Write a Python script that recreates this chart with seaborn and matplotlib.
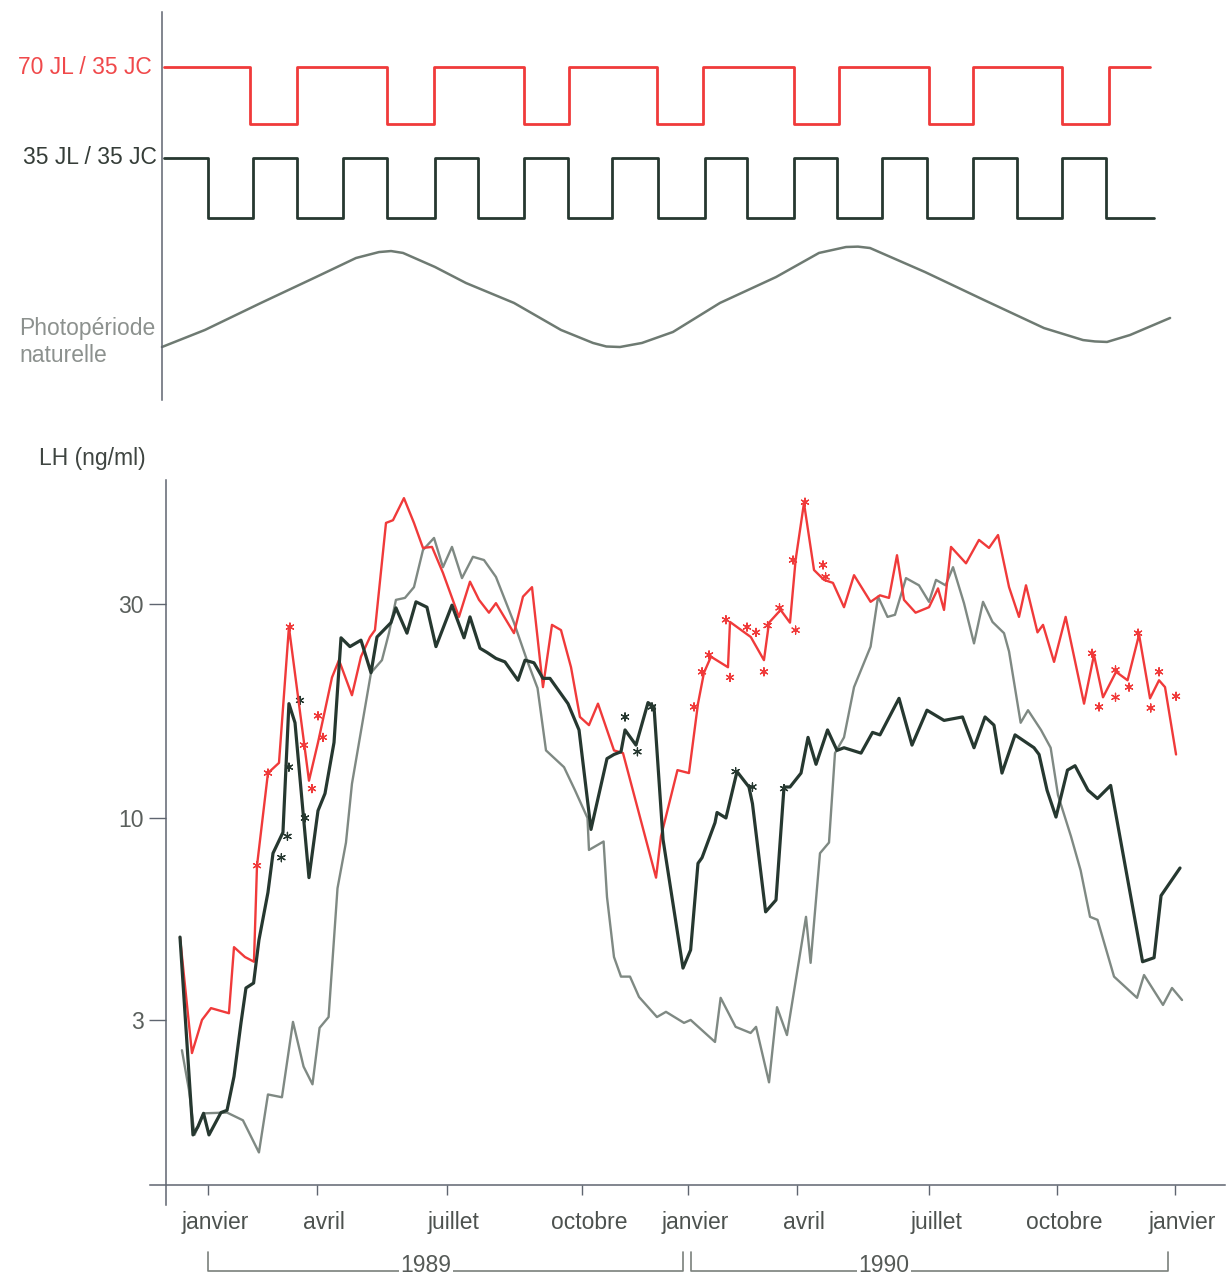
import numpy as np
import pandas as pd
import matplotlib
matplotlib.use("Agg")
import matplotlib.pyplot as plt
from matplotlib.ticker import NullLocator
from matplotlib.transforms import ScaledTranslation, blended_transform_factory
import seaborn as sns

sns.set_theme(style="white")
plt.rcParams["font.family"] = ["Liberation Sans", "DejaVu Sans"]

# ---------------------------------------------------------------- data
# time axis: weeks from 1 January 1989
month_ticks = [0.0, 11.85, 25.98, 40.65, 52.17, 64.02, 78.37, 92.28, 105.11]
month_labels = ["janvier", "avril", "juillet", "octobre", "janvier",
                "avril", "juillet", "octobre", "janvier"]

# light schedules (switch weeks; both start in long days)
red_start, red_end = -4.78, 102.4
red_switch_weeks = [4.57, 9.67, 19.46, 24.57, 34.35, 39.24, 48.8, 53.8,
                    63.7, 68.6, 78.4, 83.2, 92.8, 97.9]
dark_start, dark_end = -4.78, 102.8
dark_switch_weeks = [0.0, 4.89, 9.67, 14.67, 19.46, 24.67, 29.35, 34.35,
                     39.13, 43.9, 48.9, 54.0, 58.6, 63.7, 68.4, 73.3, 78.2,
                     83.2, 87.9, 92.8, 97.6]

# natural photoperiod (hours of light)
photo_weeks = [-5.0, -0.33, 5.76, 11.74, 16.09, 18.59, 19.9, 21.2, 24.67,
               28.04, 33.26, 38.37, 41.85, 43.3, 44.78, 47.17, 50.54, 55.65,
               61.74, 66.41, 69.35, 70.65, 71.96, 77.93, 84.35, 90.87, 95.11,
               96.4, 97.72, 100.22, 104.57]
photo_hours = [8.0, 9.35, 11.49, 13.54, 15.05, 15.52, 15.6, 15.45, 14.34,
               13.07, 11.49, 9.35, 8.32, 8.04, 8.0, 8.32, 9.19, 11.49,
               13.54, 15.45, 15.92, 15.95, 15.84, 13.94, 11.72, 9.5, 8.55,
               8.44, 8.4, 8.95, 10.3]

# plasma LH (ng/ml), group 70 JL / 35 JC
red_weeks = [-3.04, -1.74, -0.65, 0.33, 2.28, 2.83, 4.02, 5.0, 5.33, 6.52,
             7.72, 8.80, 10.98, 11.96, 12.72, 13.48, 14.24, 15.65, 16.63,
             17.61, 18.15, 19.35, 20.11, 21.30, 22.39, 23.37, 24.35, 25.54,
             27.28, 28.48, 29.46, 30.54, 31.30, 33.26, 34.24, 35.22, 36.41,
             37.39, 38.37, 39.46, 40.43, 41.41, 42.39, 44.13, 45.11, 48.70,
             49.24, 51.03, 52.28, 53.26, 53.91, 54.67, 56.52, 56.74, 59.0,
             60.43, 60.98, 62.24, 63.26, 63.87, 64.78, 65.87, 66.96, 67.93,
             69.13, 70.22, 72.02, 73.04, 74.02, 74.89, 75.65, 76.91, 78.37,
             79.35, 80.0, 80.76, 82.39, 83.80, 84.89, 85.87, 87.07, 88.15,
             88.91, 90.16, 90.76, 91.96, 93.22, 95.22, 96.30, 97.28, 98.70,
             99.95, 101.20, 102.39, 103.37, 104.02, 105.22]
red_lh = [5.10, 2.38, 3.01, 3.26, 3.15, 4.80, 4.52, 4.39, 7.7, 12.7,
          13.4, 26.8, 12.2, 14.9, 17.6, 20.8, 22.7, 19.0, 23.1,
          25.5, 26.4, 44.9, 45.5, 50.7, 44.9, 39.7, 39.9, 35.1,
          28.2, 33.6, 30.7, 28.8, 30.2, 26.0, 31.2, 32.7, 19.8,
          27.1, 26.4, 21.9, 17.0, 16.3, 18.2, 14.3, 14.1, 7.2,
          9.05, 12.9, 12.7, 18.2, 21.3, 23.1, 21.9, 27.5, 25.5,
          22.7, 27.4, 29.2, 27.4, 37.4, 49.5, 35.6, 33.9, 33.4,
          29.6, 34.7, 30.4, 31.4, 31.0, 38.3, 30.7, 28.8, 29.6,
          32.5, 29.2, 39.9, 36.8, 41.3, 39.7, 42.3, 32.7, 28.2,
          33.0, 26.1, 27.1, 22.5, 28.2, 18.2, 23.3, 18.8, 21.4,
          20.5, 25.8, 18.7, 20.5, 19.8, 14.0]

# group 35 JL / 35 JC
dark_weeks = [-3.04, -1.63, -1.09, -0.48, 0.11, 1.41, 2.07, 2.83, 3.59, 4.13,
              4.96, 5.54, 6.52, 7.07, 8.15, 8.80, 9.46, 10.39, 10.98, 11.96,
              12.72, 13.70, 14.46, 15.43, 16.63, 17.72, 18.37, 19.89, 20.43,
              21.63, 22.61, 23.80, 24.78, 26.52, 27.83, 28.48, 29.57, 30.33,
              31.30, 32.28, 33.70, 34.46, 35.43, 36.41, 37.17, 39.13, 40.33,
              41.63, 43.37, 44.13, 44.89, 45.33, 46.52, 47.83, 48.48, 49.46,
              51.63, 52.46, 53.26, 53.70, 55.11, 55.33, 56.30, 57.50, 58.80,
              59.18, 60.61, 61.74, 62.61, 63.26, 64.46, 65.22, 66.09, 67.34,
              68.37, 69.13, 70.98, 72.23, 73.04, 75.11, 76.52, 78.15, 80.0,
              82.01, 83.26, 84.46, 85.43, 86.30, 87.72, 89.78, 90.33, 91.20,
              92.17, 93.42, 94.24, 95.65, 96.68, 98.11, 101.58, 102.83,
              103.59, 105.65]
dark_lh = [5.10, 1.19, 1.29, 1.46, 1.19, 1.47, 1.50, 1.99, 2.95, 3.72,
           3.84, 5.01, 6.62, 8.25, 9.25, 18.2, 16.5, 10.0, 7.2, 10.4,
           11.4, 14.9, 25.4, 24.3, 25.1, 21.3, 25.5, 27.4, 29.5,
           26.0, 30.4, 29.6, 24.3, 29.9, 25.4, 28.2, 24.1, 23.6,
           22.9, 22.5, 20.5, 22.7, 22.4, 20.7, 20.7, 18.2, 15.9,
           9.4, 13.7, 14.0, 14.2, 15.9, 14.7, 18.3, 17.9, 8.9,
           4.22, 4.72, 7.8, 8.05, 9.75, 10.3, 10.0, 12.8, 11.8,
           10.8, 5.92, 6.34, 11.8, 11.8, 12.7, 15.3, 13.3, 15.9,
           14.3, 14.5, 14.1, 15.7, 15.5, 18.7, 14.7, 17.6, 16.7,
           17.0, 14.5, 17.0, 16.3, 12.7, 15.5, 14.5, 14.0, 11.6,
           10.05, 12.9, 13.2, 11.6, 11.1, 11.9, 4.39, 4.50,
           6.5, 7.6]

# group under natural photoperiod
gray_weeks = [-2.83, -2.07, -1.46, -0.48, 2.07, 3.80, 5.54, 6.52, 8.04, 9.24,
              10.39, 11.36, 12.13, 13.11, 14.08, 15.0, 15.65, 17.72, 18.91,
              19.67, 20.43, 21.41, 22.39, 23.37, 24.57, 25.54, 26.52, 27.61,
              28.80, 30.0, 31.30, 33.26, 34.67, 35.82, 36.74, 38.70, 39.89,
              41.25, 41.41, 43.0, 43.37, 44.13, 44.89, 45.87, 46.85, 48.80,
              49.78, 51.74, 52.46, 55.11, 55.72, 57.35, 58.98, 59.57, 60.98,
              61.85, 62.93, 65.0, 65.5, 66.52, 67.5, 68.15, 69.13, 70.22,
              72.02, 72.83, 73.86, 74.67, 75.87, 77.28, 78.37, 79.13, 80.17,
              80.98, 82.17, 83.26, 84.24, 85.27, 86.52, 87.07, 88.33, 89.13,
              90.54, 91.59, 92.39, 93.80, 94.85, 95.87, 96.68, 98.48, 100.98,
              101.74, 103.80, 104.78, 105.87]
gray_lh = [2.43, 1.79, 1.19, 1.46, 1.47, 1.37, 0.99, 1.72, 1.68, 2.97,
           2.15, 1.87, 2.85, 3.07, 6.78, 8.75, 12.0, 21.3, 22.7,
           26.0, 30.7, 31.0, 32.7, 39.3, 41.7, 36.1, 39.9, 34.2,
           38.0, 37.4, 34.4, 27.4, 22.7, 19.7, 14.3, 13.1, 11.6,
           10.0, 8.4, 8.8, 6.45, 4.52, 4.0, 4.0, 3.51, 3.07,
           3.18, 2.95, 3.01, 2.58, 3.49, 2.87, 2.75, 2.87, 1.90,
           3.28, 2.71, 5.75, 4.36, 8.25, 8.75, 14.1, 15.3, 19.8,
           24.3, 31.2, 28.2, 28.5, 34.2, 33.0, 30.4, 33.9, 33.0,
           36.1, 30.2, 24.7, 30.4, 27.5, 26.0, 23.7, 16.5, 17.6,
           15.9, 14.5, 11.3, 9.05, 7.5, 5.75, 5.65, 4.0, 3.49,
           4.04, 3.33, 3.72, 3.44]

# significant differences vs natural photoperiod (asterisks)
red_star_weeks = [5.33, 6.52, 8.91, 10.43, 11.30, 11.96, 12.50, 52.83, 53.70,
                  54.46, 56.30, 56.74, 58.59, 59.57, 60.43, 60.82, 62.12,
                  63.87, 63.59, 64.89, 66.85, 67.13, 96.09, 96.85, 98.64,
                  98.64, 100.11, 101.09, 102.47, 103.37, 105.22]
red_star_lh = [7.7, 12.7, 26.8, 14.7, 11.7, 17.1, 15.3, 17.9, 21.4,
               23.3, 27.8, 20.8, 26.8, 26.1, 21.4, 27.0, 29.5,
               26.4, 37.4, 49.7, 36.5, 34.4, 23.5, 17.9, 21.6,
               18.8, 19.8, 26.0, 17.8, 21.4, 18.9]
dark_star_weeks = [10.0, 8.80, 10.54, 8.64, 7.98, 45.33, 46.68, 48.26,
                   57.35, 59.18, 62.61]
dark_star_lh = [18.5, 13.1, 10.0, 9.05, 8.05, 17.0, 14.2, 17.9,
                12.8, 11.8, 11.7]

years = ["1989", "1990"]

# ---------------------------------------------------------------- styles
W, H = 1228, 1279
RED = "#f03a3a"
DARK = "#263830"
GRAY = "#7f8983"
AXIS = "#5f6570"
TXT = "#4d524f"

fig = plt.figure(figsize=(W / 100, H / 100), dpi=100)


def rect(left, top, right, bottom):
    return [left / W, 1 - bottom / H, (right - left) / W, (bottom - top) / H]


def px(x, y):
    return x / W, 1 - y / H


XLIM = (-6.30, 110.54)

# ---------------------------------------------------------------- top panel
ax_top = fig.add_axes(rect(150, 12, 1225, 400))


def schedule_frame(start, switches, end):
    xs = [start] + list(switches) + [end]
    states = [1]
    for _ in switches:
        states.append(1 - states[-1])
    states.append(states[-1])
    return pd.DataFrame({"semaine": xs, "lumiere": states})


red_sched = schedule_frame(red_start, red_switch_weeks, red_end)
dark_sched = schedule_frame(dark_start, dark_switch_weeks, dark_end)
red_sched["niveau"] = 276 + 57 * red_sched["lumiere"]
dark_sched["niveau"] = 182 + 60 * dark_sched["lumiere"]
photo = pd.DataFrame({"semaine": photo_weeks, "heures": photo_hours})
photo["niveau"] = 53 + (photo["heures"] - 8) * 12.625

sns.lineplot(data=red_sched, x="semaine", y="niveau", color=RED, lw=2.0,
             drawstyle="steps-post", ax=ax_top)
sns.lineplot(data=dark_sched, x="semaine", y="niveau", color=DARK, lw=2.0,
             drawstyle="steps-post", ax=ax_top)
sns.lineplot(data=photo, x="semaine", y="niveau", color="#6e7a72", lw=1.8,
             sort=False, ax=ax_top)

ax_top.set_xlim(*XLIM)
ax_top.set_ylim(0, 388)
for s in ["top", "right", "bottom"]:
    ax_top.spines[s].set_visible(False)
ax_top.spines["left"].set_position(("data", -5.0))
ax_top.spines["left"].set_color(AXIS)
ax_top.spines["left"].set_linewidth(1.1)
ax_top.set_xticks([])
ax_top.set_yticks([])
ax_top.set_xlabel("")
ax_top.set_ylabel("")
ax_top.patch.set_alpha(0)

fig.text(*px(152, 68), "70 JL / 35 JC", ha="right", va="center",
         fontsize=16.5, color="#f0494b")
fig.text(*px(157, 158), "35 JL / 35 JC", ha="right", va="center",
         fontsize=16.5, color="#353d38")
fig.text(*px(19, 328), "Photopériode", ha="left", va="center",
         fontsize=16.5, color="#8c918e")
fig.text(*px(19, 355), "naturelle", ha="left", va="center",
         fontsize=16.5, color="#8c918e")

# ---------------------------------------------------------------- LH panel
ax = fig.add_axes(rect(150, 480, 1225, 1205))

C = 1.3
ax.set_yscale("function",
              functions=(lambda v: np.log10(np.clip(np.asarray(v) + C, 1e-6, None)),
                         lambda t: 10 ** np.asarray(t) - C))

lh = pd.concat([
    pd.DataFrame({"semaine": gray_weeks, "LH": gray_lh, "groupe": "naturelle"}),
    pd.DataFrame({"semaine": red_weeks, "LH": red_lh, "groupe": "70 JL / 35 JC"}),
    pd.DataFrame({"semaine": dark_weeks, "LH": dark_lh, "groupe": "35 JL / 35 JC"}),
], ignore_index=True)
palette = {"naturelle": GRAY, "70 JL / 35 JC": RED, "35 JL / 35 JC": DARK}
widths = {"naturelle": 1.7, "70 JL / 35 JC": 1.7, "35 JL / 35 JC": 2.3}

sns.lineplot(data=lh, x="semaine", y="LH", hue="groupe", size="groupe",
             palette=palette, sizes=widths, estimator=None, sort=False,
             legend=False, ax=ax)

stars = pd.concat([
    pd.DataFrame({"semaine": red_star_weeks, "LH": red_star_lh, "groupe": "70 JL / 35 JC"}),
    pd.DataFrame({"semaine": dark_star_weeks, "LH": dark_star_lh, "groupe": "35 JL / 35 JC"}),
], ignore_index=True)
sns.scatterplot(data=stars, x="semaine", y="LH", hue="groupe", palette=palette,
                marker=(6, 2, 0), s=34, linewidth=0.9, legend=False, ax=ax)

ax.set_xlim(*XLIM)
ax.set_ylim(0.482, 55.4)
ax.set_yticks([3, 10, 30])
ax.set_yticklabels(["3", "10", "30"])
ax.yaxis.set_minor_locator(NullLocator())
ax.set_xticks(month_ticks)
ax.set_xticklabels(month_labels)
ax.set_xlabel("")
ax.set_ylabel("")

for s in ["top", "right"]:
    ax.spines[s].set_visible(False)
ax.spines["left"].set_position(("data", -4.57))
ax.spines["bottom"].set_position(("data", 0.661))
for s in ["left", "bottom"]:
    ax.spines[s].set_color(AXIS)
    ax.spines[s].set_linewidth(1.1)

ax.tick_params(axis="y", direction="out", length=12, width=1.0, color=AXIS,
               labelsize=16.5, labelcolor="#5a5f5c", pad=4, left=True)
ax.tick_params(axis="x", direction="out", length=7, width=1.0, color=AXIS,
               labelsize=16.5, labelcolor=TXT, pad=12, bottom=True)
shift = ScaledTranslation(7 / 100, 0, fig.dpi_scale_trans)
for lab in ax.get_xticklabels():
    lab.set_transform(lab.get_transform() + shift)
ax.patch.set_alpha(0)

fig.text(*px(39, 458), "LH (ng/ml)", ha="left", va="center",
         fontsize=16.5, color="#3f4541")

# year brackets under the month axis
trans = blended_transform_factory(ax.transData, fig.transFigure)
y_hi, y_lo = 1 - 1252 / H, 1 - 1271 / H
brackets = [(0.0, 51.6, 23.7), (52.5, 104.3, 73.5)]
for (x0, x1, xm), year in zip(brackets, years):
    ax.plot([x0, x0, x1, x1], [y_hi, y_lo, y_lo, y_hi], color="#7a807c",
            lw=1.2, transform=trans, clip_on=False)
    ax.text(xm, 1 - 1266 / H, year, transform=trans, ha="center", va="center",
            fontsize=16.5, color="#555a57",
            bbox=dict(facecolor="white", edgecolor="none", pad=1.0))

fig.savefig("out.png", dpi=100, facecolor="white")
